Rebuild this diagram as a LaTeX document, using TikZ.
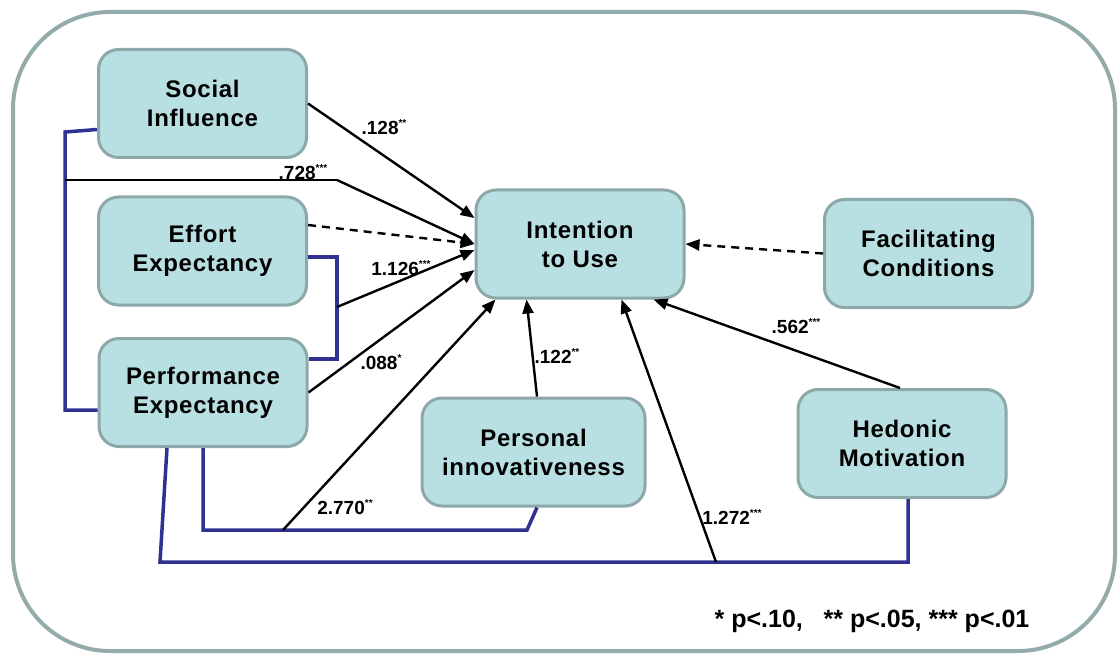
\documentclass[tikz,border=0pt]{standalone}
\usepackage{fontspec}
\setmainfont{Liberation Sans}
\newfontfamily\boxfont[LetterSpace=3]{Liberation Sans}
\usetikzlibrary{arrows.meta,calc}
\definecolor{boxfill}{HTML}{B8DFE2}
\definecolor{boxline}{HTML}{8DA8A9}
\definecolor{frameline}{HTML}{93ABAB}
\definecolor{bracket}{HTML}{2E3192}
\newcommand\sig[1]{\raisebox{0.42em}{\fontsize{10}{10}\selectfont #1}}
\tikzset{
  construct/.style={draw=boxline, fill=boxfill, line width=3pt, rounded corners=20pt,
    minimum width=208pt, minimum height=108pt, align=center,
    font=\boxfont\bfseries\fontsize{24}{29}\selectfont},
  path/.style={draw=black, line width=2.4pt, -{Triangle[length=14pt,width=11pt]}},
  nspath/.style={path, dashed, dash pattern=on 8pt off 6pt},
  brk/.style={draw=bracket, line width=3.5pt, line join=miter},
  coef/.style={font=\bfseries\fontsize{19}{19}\selectfont, inner sep=0pt},
  plain/.style={draw=black, line width=2.4pt}
}
\begin{document}
\begin{tikzpicture}[x=1pt,y=-1pt]
\useasboundingbox (0,0) rectangle (1119,655);
\draw[frameline, line width=4pt, rounded corners=97pt] (13,12) rectangle (1115,651);

% constructs
\node[construct] (si) at (202.5,103.5) {Social\\Influence};
\node[construct] (ee) at (202.5,251) {Effort\\Expectancy};
\node[construct] (pe) at (203,392.5) {Performance\\Expectancy};
\node[construct] (it) at (580,244) {Intention\\to Use};
\node[construct] (fc) at (928.5,253.5) {Facilitating\\Conditions};
\node[construct, minimum width=223pt] (pi) at (533.5,452) {Personal\\innovativeness};
\node[construct] (hm) at (902,443.5) {Hedonic\\Motivation};

% bracket coordinates
\coordinate (b1a) at (65,132);
\coordinate (b1b) at (65,410);
\coordinate (j1) at (65,180);
\coordinate (k1) at (337,180);
\coordinate (b2a) at (337,257);
\coordinate (b2b) at (337,359);
\coordinate (j2) at (337,307);
\coordinate (b3a) at (203,530);
\coordinate (b3b) at (527,530);
\coordinate (j3) at (283,530);
\coordinate (b4a) at (160,562);
\coordinate (b4b) at (908,562);
\coordinate (j4) at (716,562);

% brackets (correlated constructs)
\draw[brk] ([yshift=-26pt]si.west) -- (b1a) -- (b1b) -- ([yshift=-17.5pt]pe.west);
\draw[brk] ([yshift=-6pt]ee.east) -- (b2a) -- (b2b) -- ([yshift=33.5pt]pe.east);
\draw[brk] (pe.south) -- (b3a) -- (b3b) -- ([xshift=3.5pt]pi.south);
\draw[brk] ([xshift=-36pt]pe.south) -- (b4a) -- (b4b) -- ([xshift=6pt]hm.south);

% paths
\draw[path] (si.east) -- ([yshift=26pt]it.west);
\draw[plain] (j1) -- (k1);
\draw[path] (k1) -- (it.west);
\draw[nspath] ([yshift=26pt]ee.east) -- (it.west);
\draw[path] (j2) -- ([yshift=-6pt]it.west);
\draw[path] (pe.east) -- ([yshift=-26pt]it.west);
\draw[path] (j3) -- ([xshift=21pt]it.south west);
\draw[path] ([xshift=3.5pt]pi.north) -- ([xshift=52pt]it.south west);
\draw[path] (j4) -- ([xshift=-64pt]it.south east);
\draw[path] ([xshift=-2pt]hm.north) -- ([xshift=-32pt]it.south east);
\draw[nspath] (fc.west) -- (it.east);

% coefficients
\node[coef] (c1) at (384,127) {.128\sig{**}};
\node[coef] (c2) at (303,172) {.728\sig{***}};
\node[coef] (c3) at (401,268) {1.126\sig{***}};
\node[coef] (c4) at (381,362) {.088\sig{*}};
\node[coef] (c5) at (345,507) {2.770\sig{**}};
\node[coef] (c6) at (557,356) {.122\sig{**}};
\node[coef] (c7) at (732,517) {1.272\sig{***}};
\node[coef] (c8) at (796,326) {.562\sig{***}};

\node[font=\bfseries\fontsize{25}{25}\selectfont, inner sep=0pt] (note) at (872,621) {* p<.10,\ \ \ ** p<.05, *** p<.01};
\end{tikzpicture}
\end{document}
